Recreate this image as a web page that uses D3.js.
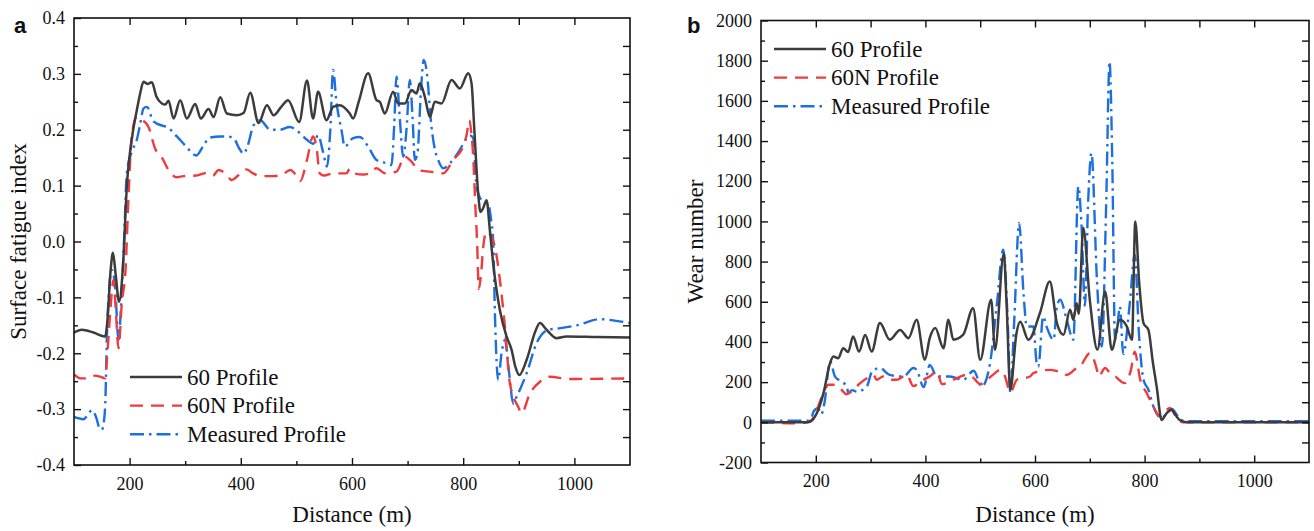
<!DOCTYPE html>
<html>
<head>
<meta charset="utf-8">
<script src="https://cdn.jsdelivr.net/npm/d3@7"></script>
<style>
  body { margin: 0; background: #fff; }
  svg { display: block; }
  text { font-family: "Liberation Serif", "Times New Roman", Times, serif; fill: #111; }
</style>
</head>
<body>
<div id="chart"></div>
<script>
// distance (m) -> surface fatigue index, panel a
const fatigue60 = [[100,-0.163],[114,-0.158],[135,-0.163],[156,-0.170],[160,-0.143],[166,-0.05],[170,-0.02],[175,-0.06],[181,-0.108],[188,-0.045],[195,0.098],[205,0.19],[213,0.235],[219,0.265],[225,0.286],[232,0.282],[240,0.285],[248,0.26],[258,0.247],[264,0.245],[270,0.252],[279,0.22],[291,0.253],[303,0.22],[318,0.246],[328,0.22],[342,0.237],[351,0.223],[363,0.258],[375,0.229],[393,0.226],[405,0.23],[417,0.266],[432,0.212],[447,0.244],[459,0.226],[472,0.24],[485,0.253],[505,0.214],[519,0.288],[530,0.22],[539,0.268],[554,0.217],[566,0.241],[578,0.244],[596,0.229],[602,0.22],[612,0.25],[629,0.301],[644,0.253],[650,0.25],[659,0.229],[674,0.268],[683,0.247],[695,0.247],[707,0.271],[716,0.265],[722,0.283],[731,0.259],[740,0.223],[749,0.25],[761,0.247],[779,0.289],[794,0.274],[809,0.301],[815,0.283],[820,0.2],[827,0.085],[831,0.053],[836,0.06],[842,0.074],[848,0.02],[854,-0.04],[866,-0.123],[878,-0.17],[887,-0.194],[894,-0.225],[901,-0.239],[914,-0.212],[930,-0.16],[938,-0.146],[950,-0.158],[968,-0.173],[986,-0.17],[1040,-0.171],[1100,-0.172]];
const fatigue60N = [[100,-0.238],[112,-0.245],[126,-0.245],[138,-0.240],[147,-0.242],[156,-0.245],[160,-0.2],[165,-0.129],[171,-0.069],[175,-0.12],[180,-0.191],[186,-0.111],[193,-0.045],[198,0.08],[204,0.19],[213,0.223],[222,0.218],[234,0.205],[246,0.166],[258,0.15],[272,0.125],[285,0.115],[297,0.117],[320,0.118],[339,0.123],[350,0.118],[360,0.128],[372,0.122],[384,0.11],[395,0.118],[410,0.129],[422,0.122],[435,0.117],[459,0.117],[475,0.12],[489,0.128],[500,0.118],[507,0.108],[519,0.146],[530,0.188],[536,0.17],[542,0.122],[550,0.118],[566,0.122],[590,0.122],[596,0.13],[604,0.122],[620,0.12],[632,0.122],[644,0.131],[660,0.122],[680,0.125],[695,0.152],[704,0.146],[722,0.127],[740,0.125],[764,0.122],[782,0.146],[800,0.17],[806,0.19],[811,0.217],[815,0.19],[818,0.152],[822,0.06],[825,0.0],[828,-0.085],[832,-0.06],[836,-0.01],[842,0.018],[850,0.01],[857,-0.009],[866,-0.069],[875,-0.152],[884,-0.254],[899,-0.296],[905,-0.307],[920,-0.272],[938,-0.251],[956,-0.242],[990,-0.246],[1100,-0.245]];
const fatigueMeasured = [[100,-0.314],[117,-0.318],[125,-0.31],[132,-0.302],[140,-0.315],[146,-0.335],[150,-0.337],[154,-0.32],[156,-0.296],[160,-0.143],[168,-0.051],[174,-0.081],[180,-0.176],[186,-0.087],[190,0.0],[195,0.122],[204,0.161],[213,0.182],[219,0.21],[225,0.238],[231,0.241],[243,0.215],[260,0.207],[267,0.205],[285,0.188],[300,0.172],[320,0.154],[333,0.172],[344,0.186],[363,0.188],[375,0.188],[387,0.185],[398,0.165],[405,0.157],[412,0.17],[423,0.208],[435,0.217],[453,0.2],[470,0.2],[488,0.205],[505,0.195],[519,0.182],[530,0.175],[539,0.19],[548,0.16],[555,0.134],[561,0.2],[566,0.307],[572,0.25],[581,0.2],[587,0.17],[602,0.185],[614,0.187],[629,0.17],[644,0.146],[662,0.14],[671,0.137],[676,0.21],[680,0.295],[686,0.22],[692,0.152],[698,0.2],[704,0.289],[709,0.22],[713,0.146],[718,0.16],[724,0.27],[729,0.325],[734,0.307],[743,0.205],[749,0.165],[755,0.146],[764,0.131],[776,0.14],[794,0.164],[805,0.183],[812,0.19],[818,0.185],[824,0.098],[833,0.074],[839,0.07],[845,0.068],[850,0.04],[854,0.0],[857,-0.128],[863,-0.248],[869,-0.2],[875,-0.176],[882,-0.23],[890,-0.29],[896,-0.278],[914,-0.236],[932,-0.182],[953,-0.158],[975,-0.155],[1004,-0.15],[1046,-0.139],[1075,-0.142],[1100,-0.146]];

// distance (m) -> wear number, panel b
const wear60 = [[100,0],[150,0],[185,0],[195,15],[202,46],[214,145],[226,295],[232,328],[241,319],[250,369],[259,350],[268,427],[279,352],[290,435],[302,352],[317,494],[335,411],[354,460],[369,419],[384,510],[399,311],[408,420],[418,469],[433,369],[442,510],[451,411],[469,436],[487,568],[500,311],[520,610],[527,361],[543,840],[548,600],[555,162],[566,440],[573,500],[588,411],[609,544],[627,701],[640,494],[652,436],[664,560],[670,510],[676,593],[680,540],[688,968],[700,610],[714,361],[728,651],[740,361],[755,510],[767,480],[777,411],[783,1000],[790,700],[798,494],[807,460],[815,300],[822,178],[831,12],[840,45],[849,62],[858,30],[865,10],[880,0],[1100,0]];
const wear60N = [[100,0],[130,-3],[155,-5],[180,-2],[192,10],[202,62],[211,128],[223,187],[235,187],[247,162],[256,140],[264,150],[281,195],[299,228],[305,236],[311,212],[323,228],[335,212],[348,212],[366,236],[378,180],[390,200],[402,220],[408,228],[421,253],[430,190],[451,212],[475,236],[488,220],[500,190],[514,215],[527,245],[536,261],[545,230],[555,150],[567,212],[591,228],[597,245],[627,261],[640,255],[652,245],[658,236],[676,270],[682,278],[700,344],[713,261],[716,228],[728,270],[737,245],[743,236],[764,195],[775,260],[782,352],[792,212],[804,145],[816,79],[828,29],[840,62],[846,71],[859,21],[870,0],[1100,0]];
const wearMeasured = [[100,8],[150,8],[185,8],[192,20],[196,54],[204,70],[210,40],[216,100],[226,303],[235,228],[244,207],[257,178],[259,145],[266,160],[275,153],[293,178],[303,255],[317,270],[335,236],[360,228],[378,270],[384,261],[397,175],[408,286],[421,228],[445,228],[469,212],[488,257],[503,178],[518,295],[530,576],[542,859],[551,444],[555,145],[562,500],[571,992],[579,643],[585,477],[597,477],[603,295],[606,278],[615,527],[621,477],[634,411],[640,576],[646,610],[658,510],[670,411],[679,1174],[685,975],[691,580],[697,1100],[703,1340],[713,709],[722,377],[730,1100],[736,1796],[741,1300],[746,411],[749,444],[755,576],[761,340],[773,593],[782,834],[790,427],[798,212],[807,162],[816,79],[831,21],[840,45],[850,66],[858,40],[865,12],[880,6],[1100,5]];

const seriesNames = ["60 Profile", "60N Profile", "Measured Profile"];
const distTicks = [200, 400, 600, 800, 1000];
const fatigueTicks = [-0.4, -0.3, -0.2, -0.1, 0.0, 0.1, 0.2, 0.3, 0.4];
const wearTicks = [-200, 0, 200, 400, 600, 800, 1000, 1200, 1400, 1600, 1800, 2000];

const width = 1314, height = 531;
const serif = "'Liberation Serif', 'Times New Roman', Times, serif";
const styles = [
  {color: "#3c3c3c", dash: null, w: 2.5},
  {color: "#ef3b3e", dash: "13,8", w: 2.4},
  {color: "#1c6fe0", dash: "14,5,2.5,5", w: 2.4}
];

const svg = d3.select("#chart").append("svg")
    .attr("width", width)
    .attr("height", height)
    .style("font-family", serif);

function drawPanel(p) {
  let x = d3.scaleLinear().domain([100, 1100]).range([p.left, p.right]);
  let y = d3.scaleLinear().domain(p.yDomain).range([p.bottom, p.top]);
  let g = svg.append("g");

  g.append("clipPath").attr("id", "clip-" + p.id)
    .append("rect")
    .attr("x", p.left).attr("y", p.top)
    .attr("width", p.right - p.left).attr("height", p.bottom - p.top);

  let line = d3.line()
      .x(d => x(d[0]))
      .y(d => y(d[1]))
      .curve(d3.curveMonotoneX);

  let lines = g.append("g").attr("clip-path", `url(#clip-${p.id})`);
  // measured first, black last so it sits on top
  [2, 1, 0].forEach(function(i) {
    lines.append("path")
      .datum(p.series[i])
      .attr("fill", "none")
      .attr("stroke", styles[i].color)
      .attr("stroke-width", styles[i].w)
      .attr("stroke-dasharray", styles[i].dash)
      .attr("stroke-linejoin", "round")
      .attr("d", line);
  });

  let xMinor = d3.range(200, 1100, 100).filter(v => !distTicks.includes(v));
  let yMinor = d3.range(p.yDomain[0], p.yDomain[1] + 1e-9, p.minorStep)
      .filter(v => !p.yTicks.some(t => Math.abs(t - v) < 1e-9))
      .filter(v => v > p.yDomain[0] && v < p.yDomain[1]);
  let yMajorInner = p.yTicks.filter(v => v > p.yDomain[0] && v < p.yDomain[1]);

  let axisStyle = sel => {
    sel.attr("font-family", serif).attr("font-size", 18);
    sel.select(".domain").remove();
    sel.selectAll("line").attr("stroke", "#111").attr("stroke-width", 1.4);
    sel.selectAll("text").style("font-size", "18px").style("font-family", serif).attr("fill", "#111");
  };

  // bottom axis with labels
  g.append("g").attr("transform", `translate(0,${p.bottom})`)
    .call(d3.axisBottom(x).tickValues(distTicks).tickSize(-7).tickPadding(12).tickFormat(d => d))
    .call(axisStyle);
  g.append("g").attr("transform", `translate(0,${p.bottom})`)
    .call(d3.axisBottom(x).tickValues(xMinor).tickSize(-4).tickFormat(""))
    .call(axisStyle);
  // top mirrored ticks
  g.append("g").attr("transform", `translate(0,${p.top})`)
    .call(d3.axisTop(x).tickValues(d3.range(200, 1100, 100)).tickSize(-7).tickFormat(""))
    .call(axisStyle);

  // left axis with labels
  g.append("g").attr("transform", `translate(${p.left},0)`)
    .call(d3.axisLeft(y).tickValues(p.yTicks).tickSize(-7).tickPadding(9).tickFormat(p.fmt))
    .call(axisStyle);
  g.append("g").attr("transform", `translate(${p.left},0)`)
    .call(d3.axisLeft(y).tickValues(yMinor).tickSize(-4).tickFormat(""))
    .call(axisStyle);
  // right mirrored ticks
  g.append("g").attr("transform", `translate(${p.right},0)`)
    .call(d3.axisRight(y).tickValues(yMajorInner.concat(yMinor)).tickSize(-7).tickFormat(""))
    .call(axisStyle);

  // frame
  g.append("rect")
    .attr("x", p.left).attr("y", p.top)
    .attr("width", p.right - p.left).attr("height", p.bottom - p.top)
    .attr("fill", "none").attr("stroke", "#111").attr("stroke-width", 1.6);

  // axis titles
  g.append("text")
    .attr("x", (p.left + p.right) / 2).attr("y", p.xTitleY)
    .style("text-anchor", "middle").style("font-size", "23px")
    .text("Distance (m)");
  g.append("text")
    .attr("transform", `translate(${p.yTitleX},${(p.top + p.bottom) / 2}) rotate(-90)`)
    .style("text-anchor", "middle").style("font-size", "23px")
    .text(p.yTitle);

  // panel letter
  g.append("text")
    .attr("x", p.letterX).attr("y", 33)
    .style("font-family", "'Liberation Sans', Arial, sans-serif")
    .style("font-weight", "bold").style("font-size", "22px")
    .text(p.id);

  // legend
  let lg = g.append("g");
  seriesNames.forEach(function(name, i) {
    let ly = p.legendY + i * 28.6;
    lg.append("line")
      .attr("x1", p.legendX).attr("x2", p.legendX + 52)
      .attr("y1", ly).attr("y2", ly)
      .attr("stroke", styles[i].color).attr("stroke-width", styles[i].w)
      .attr("stroke-dasharray", styles[i].dash);
    lg.append("text")
      .attr("x", p.legendX + 57).attr("y", ly + 7.5)
      .style("font-size", "23px")
      .text(name);
  });
}

drawPanel({
  id: "a", left: 74, right: 630, top: 18, bottom: 465,
  yDomain: [-0.4, 0.4], yTicks: fatigueTicks, minorStep: 0.05,
  fmt: d => d.toFixed(1),
  series: [fatigue60, fatigue60N, fatigueMeasured],
  yTitle: "Surface fatigue index", yTitleX: 26, xTitleY: 522,
  letterX: 14, legendX: 130, legendY: 377
});

drawPanel({
  id: "b", left: 761, right: 1309, top: 20.5, bottom: 462.5,
  yDomain: [-200, 2000], yTicks: wearTicks, minorStep: 100,
  fmt: d => String(d),
  series: [wear60, wear60N, wearMeasured],
  yTitle: "Wear number", yTitleX: 703, xTitleY: 522,
  letterX: 687, legendX: 774, legendY: 49
});
</script>
</body>
</html>
